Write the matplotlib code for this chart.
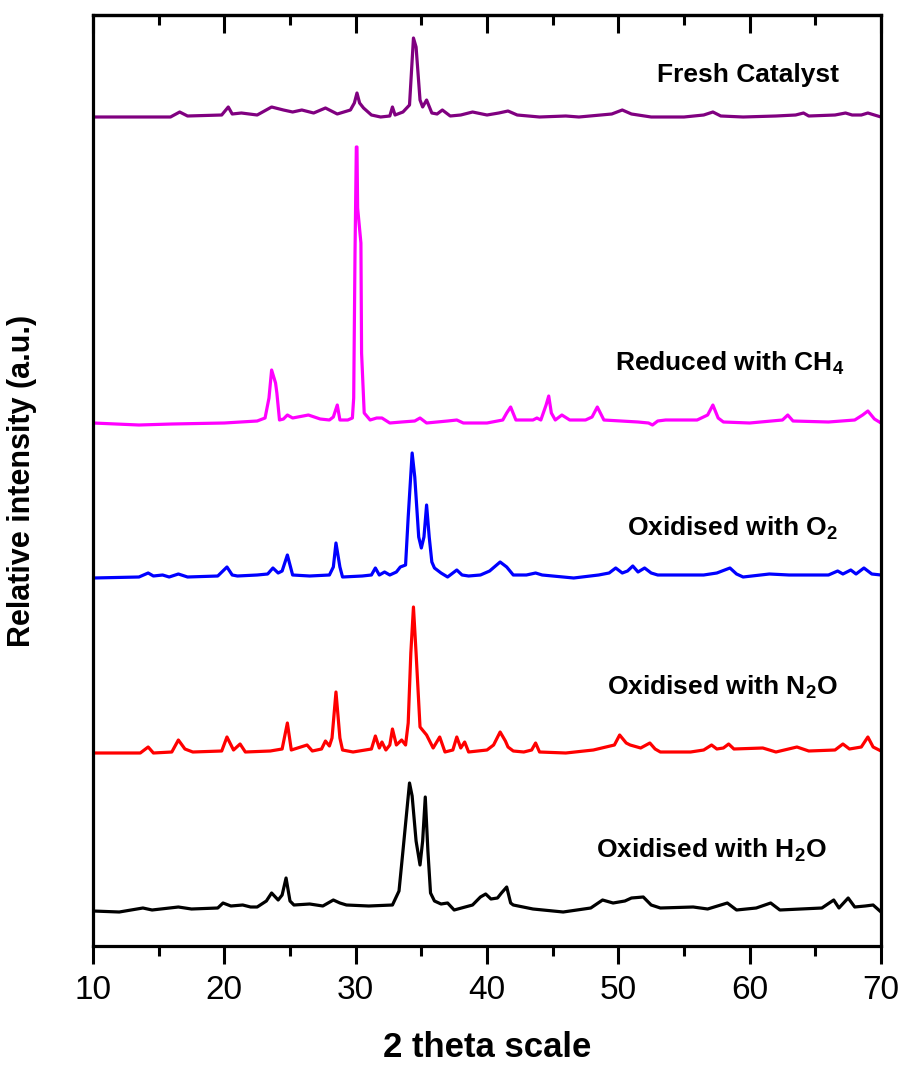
import numpy as np
import matplotlib
matplotlib.use('Agg')
import matplotlib.pyplot as plt

plt.rcParams['font.family'] = ['Liberation Sans', 'DejaVu Sans']
plt.rcParams['mathtext.fontset'] = 'custom'
plt.rcParams['mathtext.rm'] = 'Liberation Sans:bold'
plt.rcParams['mathtext.bf'] = 'Liberation Sans:bold'
plt.rcParams['mathtext.default'] = 'bf'

# XRD patterns: 2theta (deg) and intensity above each baseline (a.u.)
fresh_tt = [10, 15.9, 16.6, 17.2, 19.8, 20.3, 20.6, 21.3, 22.5, 23.6, 24.5, 25.2, 25.9, 26.8, 27.7, 28.6,
            29.6, 29.9, 30.1, 30.3, 30.6, 31.2, 31.9, 32.6, 32.8, 33.0, 33.6, 34.1, 34.4, 34.6, 34.9, 35.1,
            35.4, 35.8, 36.2, 36.6, 37.2, 38.0, 38.9, 40.0, 40.9, 41.6, 42.3, 44.0, 46.0, 47.0, 49.5, 50.3,
            51.0, 52.5, 55.0, 56.5, 57.2, 57.8, 59.5, 62.0, 63.5, 64.1, 64.5, 66.5, 67.3, 67.8, 68.5, 69.0,
            69.5, 70]
fresh_int = [0, 0, 5, 1, 2, 10, 3, 4, 2, 10, 7, 5, 7, 4, 9, 3,
             7, 14, 24, 14, 9, 2, 0, 1, 10, 2, 5, 12, 79, 70, 17, 10,
             17, 4, 3, 7, 1, 2, 5, 2, 4, 6, 2, 0, 1, 0, 3, 7,
             3, 0, 0, 2, 5, 1, 0, 1, 2, 4, 1, 2, 4, 2, 2, 4,
             2, 0]

ch4_tt = [10, 13.5, 16, 20, 22.5, 23.1, 23.4, 23.6, 23.9, 24.0, 24.2, 24.5, 24.8, 25.2, 26.4, 27.3, 28.0,
          28.3, 28.6, 28.8, 29.4, 29.75, 29.85, 29.95, 30.05, 30.1, 30.15, 30.4, 30.45, 30.65, 31.1, 31.6,
          32.0, 32.6, 33.5, 34.5, 34.9, 35.4, 37.0, 37.7, 38.2, 40.0, 41.2, 41.5, 41.8, 42.2, 43.5, 43.8,
          44.1, 44.5, 44.7, 44.9, 45.2, 45.7, 46.3, 47.5, 48.0, 48.4, 48.9, 51.5, 52.3, 52.6, 53.0, 53.6,
          56.0, 56.8, 57.2, 57.6, 58.0, 60, 62.5, 62.9, 63.3, 66, 68.0, 68.6, 69.0, 69.5, 70]
ch4_int = [0, -2, -1, 0, 2, 5, 25, 53, 40, 30, 3, 4, 8, 5, 8, 4, 3,
           6, 18, 3, 3, 5, 25, 170, 276, 276, 215, 180, 70, 10, 3, 5,
           5, 0, 1, 2, 5, 0, 2, 3, 0, 0, 3, 10, 16, 3, 3, 5,
           3, 18, 27, 10, 3, 8, 3, 3, 6, 16, 3, 1, 0, -2, 2, 3,
           3, 8, 18, 5, 1, 0, 3, 8, 2, 1, 3, 8, 12, 4, 0]

o2_tt = [10, 13.5, 14.2, 14.6, 15.3, 15.8, 16.5, 17.2, 19.5, 20.2, 20.6, 21.0, 22.5, 23.3, 23.7, 24.1,
         24.4, 24.8, 25.2, 26.5, 28.0, 28.3, 28.5, 28.8, 29.0, 30.5, 31.2, 31.5, 31.8, 32.2, 32.6, 33.1,
         33.4, 33.8, 34.0, 34.3, 34.5, 34.8, 35.0, 35.2, 35.4, 35.6, 35.8, 36.0, 36.5, 37.0, 37.7, 38.1,
         38.6, 39.5, 40.2, 41.0, 41.5, 42.0, 43.0, 43.7, 44.2, 46.6, 48.5, 49.3, 49.8, 50.3, 50.7, 51.1,
         51.5, 52.0, 52.5, 53.0, 55.0, 56.5, 57.5, 58.5, 59.0, 59.5, 61.5, 63.0, 66.0, 66.7, 67.1, 67.7,
         68.1, 68.7, 69.3, 70]
o2_int = [-1, 0, 4, 1, 2, 0, 3, 0, 1, 10, 2, 1, 2, 3, 9, 4,
          6, 22, 2, 1, 2, 10, 34, 10, 0, 1, 2, 9, 2, 5, 2, 5,
          10, 12, 60, 124, 100, 40, 29, 40, 72, 40, 15, 9, 4, 0, 7, 2,
          1, 2, 6, 15, 10, 2, 2, 4, 2, -1, 2, 4, 9, 4, 6, 11,
          5, 9, 4, 2, 2, 2, 4, 9, 3, 0, 3, 2, 2, 6, 3, 7,
          3, 9, 3, 2]

n2o_tt = [10, 13.6, 14.2, 14.6, 16.0, 16.5, 17.0, 17.6, 19.8, 20.2, 20.7, 21.2, 21.6, 23.5, 24.4, 24.8,
          25.1, 26.3, 26.7, 27.4, 27.7, 28.0, 28.2, 28.5, 28.8, 29.0, 29.8, 31.2, 31.5, 31.8, 32.0, 32.3,
          32.6, 32.8, 33.1, 33.5, 33.8, 34.0, 34.2, 34.4, 34.6, 34.9, 35.4, 35.9, 36.4, 36.8, 37.4, 37.7,
          38.0, 38.3, 38.6, 40.0, 40.5, 41.0, 41.4, 41.6, 42.0, 42.8, 43.4, 43.7, 44.0, 46.0, 48.1, 49.7,
          50.1, 50.6, 50.9, 51.7, 52.4, 52.8, 53.2, 55.5, 56.5, 57.1, 57.5, 58.0, 58.4, 58.8, 61.0, 62.0,
          63.6, 64.5, 66.5, 67.1, 67.6, 68.5, 69.0, 69.4, 70]
n2o_int = [0, 0, 6, 0, 1, 13, 4, 1, 2, 16, 3, 9, 1, 2, 4, 30,
           3, 8, 2, 4, 12, 7, 15, 61, 15, 3, 1, 4, 17, 5, 11, 3,
           8, 24, 8, 13, 8, 30, 100, 146, 100, 26, 18, 5, 16, 1, 3, 16,
           5, 11, 1, 3, 8, 21, 12, 6, 2, 1, 3, 10, 1, 0, 3, 8,
           18, 10, 8, 5, 10, 4, 1, 1, 3, 8, 4, 5, 9, 4, 5, 1,
           6, 2, 3, 9, 4, 6, 16, 6, 2]

h2o_tt = [10, 12.0, 13.8, 14.5, 16.5, 17.5, 19.5, 19.9, 20.5, 21.4, 22.0, 22.5, 23.2, 23.6, 24.1, 24.4,
          24.7, 25.0, 25.3, 26.5, 27.5, 28.3, 28.8, 29.3, 31.0, 32.8, 33.3, 33.6, 34.1, 34.3, 34.6, 34.9,
          35.1, 35.3, 35.5, 35.7, 36.0, 36.5, 37.0, 37.5, 38.9, 39.5, 39.9, 40.3, 40.8, 41.1, 41.5, 41.8,
          42.0, 43.5, 45.8, 47.9, 48.8, 49.6, 50.5, 51.0, 51.9, 52.5, 53.2, 55.7, 56.8, 58.3, 59.0, 60.5,
          61.6, 62.3, 65.5, 66.4, 66.8, 67.5, 68.0, 68.8, 69.4, 70]
h2o_int = [0, -1, 3, 1, 4, 2, 3, 8, 5, 6, 4, 4, 10, 18, 11, 16,
           33, 10, 6, 7, 5, 11, 8, 6, 5, 6, 20, 60, 128, 115, 70, 46,
           70, 114, 60, 18, 10, 7, 8, 1, 6, 14, 17, 12, 13, 18, 24, 8,
           6, 2, -1, 3, 11, 8, 10, 13, 14, 6, 3, 4, 2, 8, 1, 3,
           8, 1, 3, 11, 3, 13, 4, 5, 6, -1]

labels = ['Fresh Catalyst', r'Reduced with CH$_4$', r'Oxidised with O$_2$',
          r'Oxidised with N$_2$O', r'Oxidised with H$_2$O']
offsets = [829, 523, 369, 193, 35]   # stacking offsets
colors = ['#800080', '#ff00ff', '#0000ff', '#ff0000', '#000000']
series = [(fresh_tt, fresh_int), (ch4_tt, ch4_int), (o2_tt, o2_int),
          (n2o_tt, n2o_int), (h2o_tt, h2o_int)]

fig = plt.figure(figsize=(9.15, 10.73), dpi=100)
ax = fig.add_axes([93/915, 127/1073, 788/915, 931/1073])

for (tt, inten), off, c in zip(series, offsets, colors):
    ax.plot(tt, np.array(inten) + off, color=c, lw=2.3, solid_joinstyle='round')

# label positions (x in 2theta, y in axis units)
lab_pos = [(59.9, 871), (58.5, 583), (58.7, 418), (57.9, 259), (57.1, 96)]
for lab, (lx, ly) in zip(labels, lab_pos):
    ax.text(lx, ly, lab, ha='center', va='center', fontsize=19, fontweight='bold')

ax.set_xlim(10, 70)
ax.set_ylim(0, 931)
ax.set_yticks([])
ax.set_xticks(np.arange(10, 71, 10))
ax.set_xticks(np.arange(15, 70, 10), minor=True)
ax.tick_params(axis='x', which='major', direction='out', length=13, width=2.2, pad=8,
               labelsize=24)
ax.tick_params(axis='x', which='minor', direction='out', length=7, width=2.2)
for s in ax.spines.values():
    s.set_linewidth(2.3)

top = ax.secondary_xaxis('top')
top.set_xticks(np.arange(10, 71, 10))
top.set_xticks(np.arange(15, 70, 10), minor=True)
top.tick_params(which='major', direction='in', length=13, width=2.2, labeltop=False)
top.tick_params(which='minor', direction='in', length=7, width=2.2)
top.spines['top'].set_linewidth(2.3)

ax.set_xlabel('2 theta scale', fontsize=25, fontweight='bold', labelpad=18)
ax.set_ylabel('Relative intensity (a.u.)', fontsize=22, fontweight='bold', labelpad=40)

fig.savefig('out.png', dpi=100)
